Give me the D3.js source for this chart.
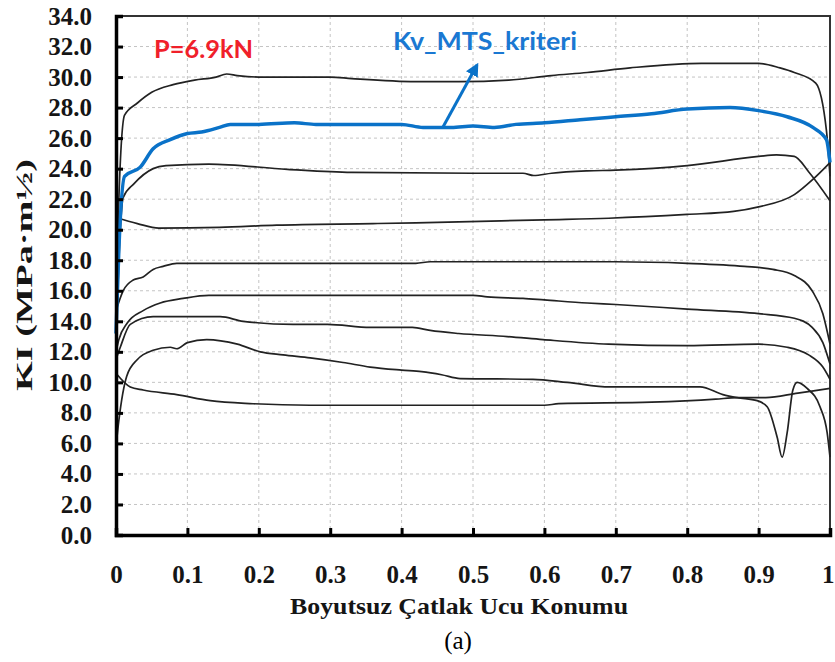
<!DOCTYPE html>
<html>
<head>
<meta charset="utf-8">
<script src="https://cdn.jsdelivr.net/npm/d3@7"></script>
<style>
  body { margin: 0; background: #fff; }
  svg { display: block; }
</style>
</head>
<body>
<div class="chart"></div>
<script>
// tick values
const xTicks = [0, 0.1, 0.2, 0.3, 0.4, 0.5, 0.6, 0.7, 0.8, 0.9, 1];
const xTickLabels = ["0", "0.1", "0.2", "0.3", "0.4", "0.5", "0.6", "0.7", "0.8", "0.9", "1"];
const yTicks = [0, 2, 4, 6, 8, 10, 12, 14, 16, 18, 20, 22, 24, 26, 28, 30, 32, 34];

// Kv_MTS_kriteri (blue)
const kvMts = [[0,13.2],[0.004,18.7],[0.012,23.5],[0.034,24.1],[0.052,25.3],[0.076,25.9],[0.1,26.3],[0.12,26.4],[0.145,26.7],[0.16,26.9],[0.2,26.9],[0.25,27.0],[0.28,26.9],[0.35,26.9],[0.4,26.9],[0.43,26.7],[0.47,26.7],[0.5,26.8],[0.53,26.7],[0.56,26.9],[0.6,27.0],[0.65,27.2],[0.7,27.4],[0.75,27.6],[0.8,27.9],[0.86,28.0],[0.9,27.8],[0.94,27.4],[0.976,26.7],[0.995,25.9],[1.0,24.4]];

// other criteria (black)
const curve1 = [[0,14.0],[0.004,22],[0.012,27.5],[0.03,28.3],[0.05,29.0],[0.08,29.5],[0.11,29.8],[0.14,30.0],[0.155,30.2],[0.17,30.1],[0.2,30.0],[0.3,30.0],[0.33,29.9],[0.42,29.7],[0.48,29.7],[0.55,29.8],[0.61,30.1],[0.66,30.3],[0.72,30.6],[0.82,30.9],[0.9,30.9],[0.93,30.6],[0.95,30.3],[0.98,29.6],[0.995,26.5],[1.0,23.5]];
const curve2 = [[0,12.5],[0.006,20],[0.01,22.1],[0.025,23.0],[0.052,24.0],[0.07,24.2],[0.13,24.3],[0.24,23.95],[0.33,23.75],[0.5,23.7],[0.57,23.7],[0.585,23.55],[0.61,23.7],[0.66,23.85],[0.7,23.9],[0.8,24.2],[0.9,24.8],[0.925,24.9],[0.95,24.8],[0.97,23.8],[1.0,21.9]];
const curve3 = [[0,20.8],[0.03,20.4],[0.06,20.1],[0.145,20.15],[0.225,20.3],[0.36,20.4],[0.42,20.45],[0.6,20.65],[0.69,20.75],[0.8,21.0],[0.865,21.2],[0.9,21.5],[0.95,22.3],[0.976,23.3],[1.0,24.4]];
const curve4 = [[0,14.7],[0.01,16.0],[0.024,16.7],[0.038,16.9],[0.052,17.4],[0.066,17.6],[0.085,17.8],[0.42,17.8],[0.44,17.9],[0.7,17.9],[0.8,17.8],[0.88,17.6],[0.92,17.4],[0.95,17.0],[0.975,16.0],[0.99,14.5],[1.0,12.5]];
const curve5 = [[0,12.0],[0.004,12.8],[0.016,13.9],[0.038,14.7],[0.062,15.2],[0.094,15.5],[0.13,15.7],[0.5,15.7],[0.52,15.6],[0.57,15.5],[0.6,15.4],[0.66,15.2],[0.7,15.1],[0.8,14.8],[0.9,14.5],[0.95,14.2],[0.975,13.6],[0.99,12.6],[1.0,11.2]];
const curve6 = [[0,11.5],[0.006,12.3],[0.02,13.8],[0.052,14.3],[0.146,14.3],[0.178,14.0],[0.248,13.8],[0.296,13.8],[0.356,13.6],[0.415,13.6],[0.44,13.4],[0.48,13.2],[0.548,13.0],[0.598,12.8],[0.69,12.5],[0.8,12.4],[0.9,12.5],[0.94,12.3],[0.97,11.8],[0.99,11.0],[1.0,10.2]];
const curve7 = [[0,5.8],[0.004,7.5],[0.015,10.4],[0.03,11.5],[0.052,12.1],[0.076,12.3],[0.085,12.2],[0.1,12.6],[0.127,12.8],[0.17,12.5],[0.202,12.0],[0.234,11.8],[0.272,11.6],[0.318,11.3],[0.356,11.0],[0.4,10.8],[0.428,10.7],[0.456,10.5],[0.482,10.25],[0.584,10.2],[0.632,10.0],[0.692,9.7],[0.818,9.7],[0.85,9.2],[0.87,9.0],[0.898,8.8],[0.912,8.4],[0.926,6.4],[0.933,5.1],[0.94,6.7],[0.948,9.5],[0.954,10.0],[0.968,9.6],[0.986,8.4],[0.996,6.7],[1.0,5.1]];
const curve8 = [[0,10.6],[0.02,9.7],[0.038,9.5],[0.085,9.2],[0.132,8.8],[0.192,8.6],[0.272,8.5],[0.6,8.5],[0.62,8.6],[0.75,8.7],[0.84,8.9],[0.87,9.0],[0.91,9.0],[0.955,9.3],[1.0,9.6]];
const blackCurves = [curve1, curve2, curve3, curve4, curve5, curve6, curve7, curve8];

const width = 835;
const height = 662;
const mLeft = 116, mRight = 830, mTop = 16, mBottom = 535;

const x = d3.scaleLinear().domain([0, 1]).range([mLeft, mRight]);
const y = d3.scaleLinear().domain([0, 34]).range([mBottom, mTop]);

const svg = d3.select(".chart").append("svg")
  .attr("width", width)
  .attr("height", height);

// grid
svg.append("g")
  .selectAll("line")
  .data(xTicks.slice(1, -1))
  .enter().append("line")
  .attr("x1", d => x(d)).attr("x2", d => x(d))
  .attr("y1", mTop).attr("y2", mBottom)
  .attr("stroke", "#c4c4c4")
  .attr("stroke-dasharray", "3,3");

svg.append("g")
  .selectAll("line")
  .data(yTicks.slice(1, -1))
  .enter().append("line")
  .attr("x1", mLeft).attr("x2", mRight)
  .attr("y1", d => y(d)).attr("y2", d => y(d))
  .attr("stroke", "#c4c4c4")
  .attr("stroke-dasharray", "3,3");

// top / right frame
svg.append("path")
  .attr("d", `M${mLeft},${mTop}H${mRight}V${mBottom}`)
  .attr("fill", "none")
  .attr("stroke", "#333")
  .attr("stroke-width", 2);

const line = d3.line()
  .x(d => x(d[0]))
  .y(d => y(d[1]))
  .curve(d3.curveMonotoneX);

svg.append("g")
  .selectAll("path")
  .data(blackCurves)
  .enter().append("path")
  .attr("d", line)
  .attr("fill", "none")
  .attr("stroke", "#222")
  .attr("stroke-width", 1.7);

svg.append("path")
  .datum(kvMts)
  .attr("d", line)
  .attr("fill", "none")
  .attr("stroke", "#0a72c8")
  .attr("stroke-width", 3.5);

// axes
const yAxis = svg.append("g")
  .attr("transform", "translate(" + mLeft + ",0)")
  .call(d3.axisLeft(y).tickValues(yTicks).tickSize(-7).tickPadding(24).tickFormat(d3.format(".1f")));

const xAxis = svg.append("g")
  .attr("transform", "translate(0," + mBottom + ")")
  .call(d3.axisBottom(x).tickValues(xTicks).tickSize(-7).tickPadding(30).tickFormat((d, i) => xTickLabels[i]));

[yAxis, xAxis].forEach(a => {
  a.select(".domain").attr("stroke", "#000").attr("stroke-width", 3.5);
  a.selectAll(".tick line").attr("stroke", "#000").attr("stroke-width", 3);
  a.selectAll(".tick text")
    .style("font-family", "Liberation Serif")
    .style("font-weight", "bold")
    .style("font-size", "25px")
    .attr("fill", "#151515");
});

// last x label sits against the right edge
xAxis.selectAll(".tick text")
  .filter(d => d === 1)
  .attr("text-anchor", "end")
  .attr("x", 4);

// axis titles
svg.append("text")
  .attr("transform", "translate(32,275) rotate(-90)")
  .style("text-anchor", "middle")
  .style("font-family", "Liberation Serif")
  .style("font-weight", "bold")
  .style("font-size", "24px")
  .attr("textLength", 232)
  .attr("lengthAdjust", "spacingAndGlyphs")
  .attr("fill", "#151515")
  .text("KI (MPa·m½)");

svg.append("text")
  .attr("x", 459).attr("y", 614)
  .style("text-anchor", "middle")
  .style("font-family", "Liberation Serif")
  .style("font-weight", "bold")
  .style("font-size", "24px")
  .attr("textLength", 338)
  .attr("lengthAdjust", "spacingAndGlyphs")
  .attr("fill", "#151515")
  .text("Boyutsuz Çatlak Ucu Konumu");

svg.append("text")
  .attr("x", 458).attr("y", 649)
  .style("text-anchor", "middle")
  .style("font-family", "Liberation Serif")
  .style("font-size", "25px")
  .attr("fill", "#000")
  .text("(a)");

// annotations
svg.append("text")
  .attr("x", 154).attr("y", 58)
  .style("font-family", "Lato")
  .style("font-weight", "bold")
  .style("font-size", "25px")
  .attr("textLength", 99)
  .attr("lengthAdjust", "spacingAndGlyphs")
  .attr("fill", "#f0202a")
  .text("P=6.9kN");

svg.append("text")
  .attr("x", 393).attr("y", 50)
  .style("font-family", "Lato")
  .style("font-weight", "bold")
  .style("font-size", "25px")
  .attr("textLength", 184)
  .attr("lengthAdjust", "spacingAndGlyphs")
  .attr("fill", "#1a78d2")
  .text("Kv_MTS_kriteri");

svg.append("defs").append("marker")
  .attr("id", "arrow")
  .attr("viewBox", "0 0 10 10")
  .attr("refX", 8).attr("refY", 5)
  .attr("markerWidth", 4.5).attr("markerHeight", 4.5)
  .attr("orient", "auto")
  .append("path")
  .attr("d", "M0,0L10,5L0,10z")
  .attr("fill", "#0a72c8");

svg.append("line")
  .attr("x1", 443).attr("y1", 127)
  .attr("x2", 477).attr("y2", 65)
  .attr("stroke", "#0a72c8")
  .attr("stroke-width", 3)
  .attr("marker-end", "url(#arrow)");
</script>
</body>
</html>
